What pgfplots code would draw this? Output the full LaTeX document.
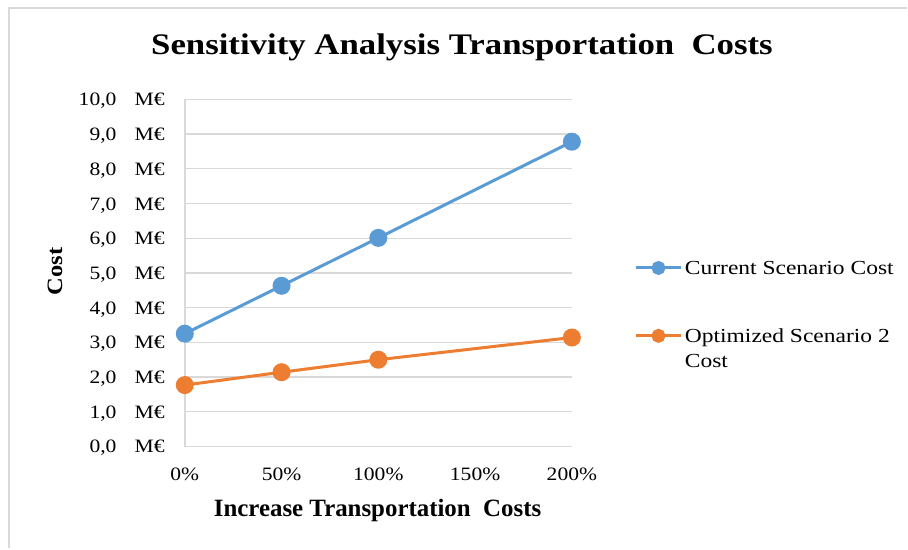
\documentclass[border=0pt]{standalone}
\usepackage{fontspec}
\setmainfont{Liberation Serif}
\usepackage{pgfplots}
\pgfplotsset{compat=1.18}

\definecolor{cblue}{HTML}{5B9BD5}
\definecolor{corange}{HTML}{ED7D31}
\definecolor{cgrid}{HTML}{D9D9D9}

% the reference text is drawn a little wider than plain Times
\newcommand{\sx}[2][1.14]{\scalebox{#1}[1]{#2}}
\newcommand{\yl}[1]{\sx{#1\hspace{16bp}M€}}

\begin{document}
\begin{tikzpicture}[x=1bp,y=1bp]
% page bounds (908 x 549)
\path (-185,-102) rectangle (723,447);
\draw[cgrid, line width=2bp] (-175.5,-102) -- (-175.5,439) -- (723,439);

\begin{axis}[
  at={(0,0)}, anchor=origin,
  scale only axis,
  width=387.5bp, height=347.5bp,
  xmin=0, xmax=200, ymin=0, ymax=10,
  clip=false,
  axis x line=bottom, axis y line=left,
  axis line style={-, cgrid, line width=1.5bp},
  major tick length=0pt,
  ymajorgrids,
  grid style={cgrid, line width=1.3bp},
  xtick={0,50,100,150,200},
  xticklabels={\sx{0\%},\sx{50\%},\sx{100\%},\sx{150\%},\sx{200\%}},
  ytick={0,1,...,10},
  yticklabels={\yl{0,0},\yl{1,0},\yl{2,0},\yl{3,0},\yl{4,0},\yl{5,0},\yl{6,0},\yl{7,0},\yl{8,0},\yl{9,0},\yl{10,0}},
  xticklabel style={font=\fontsize{19}{22}\selectfont, anchor=base, inner sep=0pt, yshift=-34bp},
  yticklabel style={font=\fontsize{19}{22}\selectfont, anchor=base east, inner sep=0pt, xshift=-20bp, yshift=-6.5bp},
  legend style={draw=none, fill=none, at={(rel axis cs:1.16,0.537)}, anchor=north west,
    inner sep=0pt, row sep=47bp, column sep=1bp,
    font=\fontsize{20}{25}\selectfont,
    nodes={inner sep=1bp, anchor=base west}},
  legend cell align=left,
  legend image code/.code={\draw[mark repeat=2, mark phase=2, mark size=5.5bp]
    plot coordinates {(0bp,6.5bp) (23bp,6.5bp) (46bp,6.5bp)};},
]
\addplot[cblue, line width=3bp, mark=*, mark size=7.5bp, mark options={fill=cblue, draw=none}]
  coordinates {(0,3.25) (50,4.63) (100,6.01) (200,8.78)};
\addlegendentry{\sx[1.18]{Current Scenario Cost}}
\addplot[corange, line width=3bp, mark=*, mark size=7.5bp, mark options={fill=corange, draw=none}]
  coordinates {(0,1.77) (50,2.14) (100,2.50) (200,3.14)};
\addlegendentry{\sx[1.18]{\begin{tabular}[t]{@{}l@{}}Optimized Scenario 2\\Cost\end{tabular}}}
\end{axis}

\node[anchor=base, font=\fontsize{30}{36}\selectfont\bfseries] at (277.5,392)
  {\sx[1.165]{Sensitivity Analysis Transportation\ \ Costs}};
\node[rotate=90, font=\fontsize{22}{26}\selectfont\bfseries] at (-130,175.5) {\sx[1.12]{Cost}};
\node[anchor=base, font=\fontsize{25}{30}\selectfont\bfseries] at (193,-70)
  {Increase Transportation\ \ Costs};
\end{tikzpicture}
\end{document}
